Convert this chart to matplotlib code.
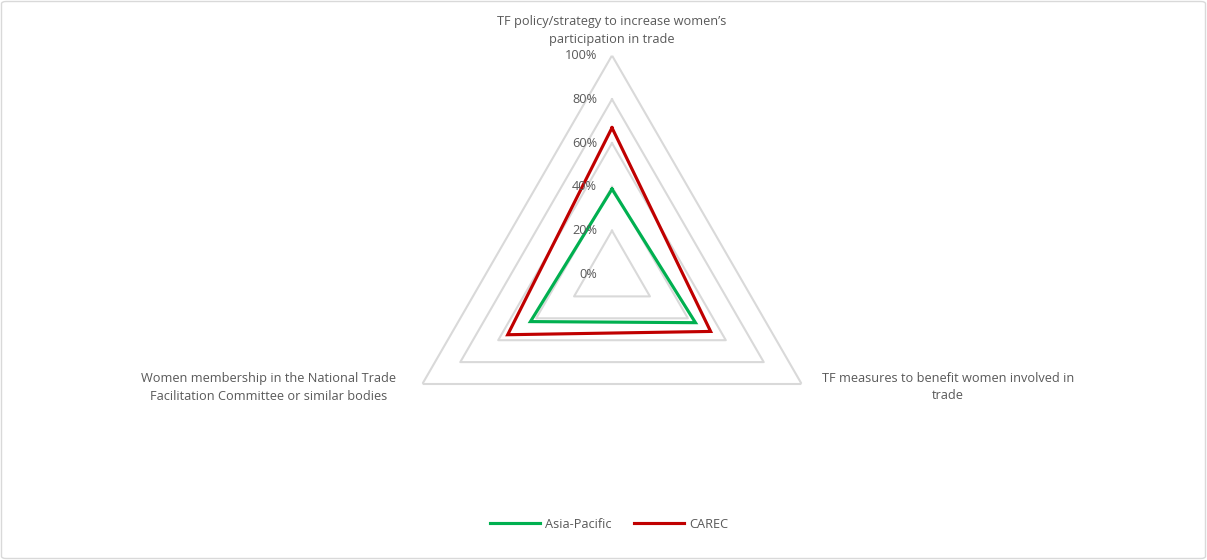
import numpy as np
import matplotlib
matplotlib.use("Agg")
import matplotlib.pyplot as plt
from matplotlib.patches import FancyBboxPatch

plt.rcParams['font.family'] = ['Open Sans', 'DejaVu Sans']

categories = [
    "TF policy/strategy to increase women\u2019s\nparticipation in trade",
    "TF measures to benefit women involved in\ntrade",
    "Women membership in the National Trade\nFacilitation Committee or similar bodies",
]
series_names = ["Asia-Pacific", "CAREC"]
asia_pacific = [0.39, 0.44, 0.43]
carec = [0.67, 0.52, 0.55]
ticks = [0.0, 0.2, 0.4, 0.6, 0.8, 1.0]
tick_labels = ["0%", "20%", "40%", "60%", "80%", "100%"]
colors = ["#00B050", "#C00000"]

W, H = 1207, 560
fig = plt.figure(figsize=(W / 100, H / 100), dpi=100)

cx, cy, R = 612, 274.5, 219
ax = fig.add_axes([(cx - R) / W, (H - cy - R) / H, 2 * R / W, 2 * R / H], projection='polar')
ax.set_theta_offset(np.pi / 2)
ax.set_theta_direction(-1)
ax.set_ylim(0, 1)
ax.grid(False)
ax.spines['polar'].set_visible(False)
ax.set_xticks([])
ax.set_yticks([])
ax.patch.set_alpha(0)

n = len(categories)
angles = np.arange(n) * 2 * np.pi / n
closed = np.append(angles, angles[0])

grid_color = "#D9D9D9"
for t in ticks[1:]:
    ax.plot(closed, [t] * (n + 1), color=grid_color, lw=1.5, zorder=1)

for vals, name, c in zip([asia_pacific, carec], series_names, colors):
    v = list(vals) + [vals[0]]
    ax.plot(closed, v, color=c, lw=2.25, label=name, zorder=3, solid_joinstyle='miter')

text_color = "#595959"
fs = 9.2
for t, lab in zip(ticks, tick_labels):
    ax.annotate(lab, xy=(0, t), xytext=(-15, 0), textcoords='offset pixels',
                ha='right', va='center', fontsize=fs, color=text_color, zorder=4)

offsets = [((0, 10), 'center', 'bottom'),
           ((146, 12), 'center', 'top'),
           ((-154, 12), 'center', 'top')]
for ang, lab, (off, ha, va) in zip(angles, categories, offsets):
    ax.annotate(lab, xy=(ang, 1.0), xytext=off, textcoords='offset pixels',
                ha=ha, va=va, fontsize=fs, color=text_color, multialignment='center',
                linespacing=1.45, annotation_clip=False)

fig.legend(loc='center', bbox_to_anchor=(609 / W, 1 - 524 / H), ncol=2, frameon=False,
           fontsize=fs, labelcolor=text_color, handlelength=3.9, columnspacing=1.8,
           handletextpad=0.4)

border = FancyBboxPatch((1.5 / W, 1.5 / H), (W - 3) / W, (H - 3) / H,
                        boxstyle="round,pad=0,rounding_size=0.004",
                        transform=fig.transFigure, fill=False, edgecolor="#D9D9D9", lw=1)
fig.patches.append(border)

fig.savefig("out.png", dpi=100)
